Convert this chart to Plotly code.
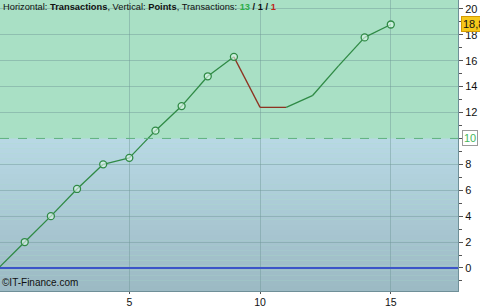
import plotly.graph_objects as go

# ---- data ----
transactions = list(range(0, 16))
points = [0, 2.0, 4.0, 6.1, 8.0, 8.5, 10.6, 12.5, 14.8, 16.3, 12.4, 12.4, 13.3, 15.6, 17.8, 18.8]
marked = [False, True, True, True, True, True, True, True, True, True, False, False, False, False, True, True]
x_ticks = [5, 10, 15]
y_ticks = [0, 2, 4, 6, 8, 12, 14, 16, 18, 20]
threshold = 10
last_label = "18,8"
wins, flats, losses = 13, 1, 1

GREEN = "#2f8a45"
RED = "#8e3322"
X_RANGE = [0.054, 17.57]
Y_RANGE = [-1.78, 20.69]

fig = go.Figure()

# background zones
shapes = []
shapes.append(dict(type="rect", xref="paper", yref="y", x0=0, x1=1, y0=threshold, y1=Y_RANGE[1],
                   fillcolor="#a9e0c5", line_width=0, layer="below"))
top_c = (0xb8, 0xd9, 0xe5)
bot_c = (0x9c, 0xb9, 0xc3)
n = 30
for i in range(n):
    y0 = Y_RANGE[0] + (threshold - Y_RANGE[0]) * i / n
    y1 = Y_RANGE[0] + (threshold - Y_RANGE[0]) * (i + 1) / n
    t = (i + 0.5) / n
    c = tuple(int(round(bot_c[k] + (top_c[k] - bot_c[k]) * t)) for k in range(3))
    shapes.append(dict(type="rect", xref="paper", yref="y", x0=0, x1=1, y0=y0, y1=y1,
                       fillcolor="rgb(%d,%d,%d)" % c, line_width=0, layer="below"))
# threshold dashed line and zero line
shapes.append(dict(type="line", xref="paper", yref="y", x0=0, x1=1, y0=threshold, y1=threshold,
                   line=dict(color="#5fb27f", width=1, dash="dash")))
shapes.append(dict(type="line", xref="paper", yref="y", x0=0, x1=1, y0=0, y1=0,
                   line=dict(color="#3c55c8", width=2)))

# line segments coloured by direction
for i in range(1, len(points)):
    col = GREEN if points[i] > points[i - 1] else RED
    fig.add_trace(go.Scatter(x=transactions[i - 1:i + 1], y=points[i - 1:i + 1], mode="lines",
                             line=dict(color=col, width=1.3), showlegend=False, hoverinfo="skip"))

mx = [x for x, m in zip(transactions, marked) if m]
my = [y for y, m in zip(points, marked) if m]
fig.add_trace(go.Scatter(x=mx, y=my, mode="markers",
                         marker=dict(symbol="circle", size=7, color="rgba(230,250,240,0.6)",
                                     line=dict(color=GREEN, width=1.3)),
                         showlegend=False))

annotations = [
    dict(xref="paper", yref="paper", x=0.003, y=1.0, xanchor="left", yanchor="top", showarrow=False,
         text=("Horizontal: <b>Transactions</b>, Vertical: <b>Points</b>, Transactions: "
               "<b><span style='color:#2fae48'>%d</span> / %d / <span style='color:#c0261c'>%d</span></b>")
              % (wins, flats, losses),
         font=dict(family="Liberation Sans, Arial", size=9.3, color="#111")),
    dict(xref="paper", yref="paper", x=0.0, y=0.0, xanchor="left", yanchor="bottom", showarrow=False,
         text="©IT-Finance.com", font=dict(family="Liberation Sans, Arial", size=10, color="#111"),
         yshift=1),
    dict(xref="paper", yref="y", x=1.0, y=threshold, xanchor="left", yanchor="middle", showarrow=False,
         text=str(threshold), font=dict(family="Liberation Sans, Arial", size=11, color="#46b85c"),
         bgcolor="#ffffff", bordercolor="#9a9a9a", borderwidth=1, borderpad=1, xshift=4),
    dict(xref="paper", yref="y", x=1.0, y=points[-1], xanchor="left", yanchor="middle", showarrow=False,
         text=last_label, font=dict(family="Liberation Sans, Arial", size=11, color="#111"),
         bgcolor="#f6c81a", bordercolor="#d49a00", borderwidth=1, borderpad=1, xshift=3),
]

fig.update_layout(
    width=480, height=306,
    margin=dict(l=0, r=22, t=0, b=15, pad=0, autoexpand=False),
    paper_bgcolor="#ffffff", plot_bgcolor="#a9e0c5",
    shapes=shapes, annotations=annotations,
    font=dict(family="Liberation Sans, Arial", size=11, color="#111"),
    xaxis=dict(range=X_RANGE, tickvals=x_ticks, ticktext=[str(v) for v in x_ticks], automargin=False,
               showgrid=True, gridcolor="rgba(110,150,150,0.45)", gridwidth=1,
               ticks="outside", ticklen=2, tickcolor="#555", zeroline=False,
               showline=True, linecolor="#6f8f98", linewidth=1, mirror=False,
               ticklabelstandoff=-1,
               tickfont=dict(size=10.5, color="#111")),
    yaxis=dict(range=Y_RANGE, side="right", tickvals=y_ticks, ticktext=[str(v) for v in y_ticks],
               automargin=False,
               showgrid=True, gridcolor="rgba(110,150,150,0.45)", gridwidth=1,
               ticks="outside", ticklen=4, tickcolor="#555", zeroline=False,
               showline=True, linecolor="#6f8f98", linewidth=1,
               minor=dict(dtick=1, tick0=0, ticks="outside", ticklen=3, tickcolor="#555", showgrid=False),
               tickfont=dict(size=11, color="#111")),
)

fig.write_html("out.html")
